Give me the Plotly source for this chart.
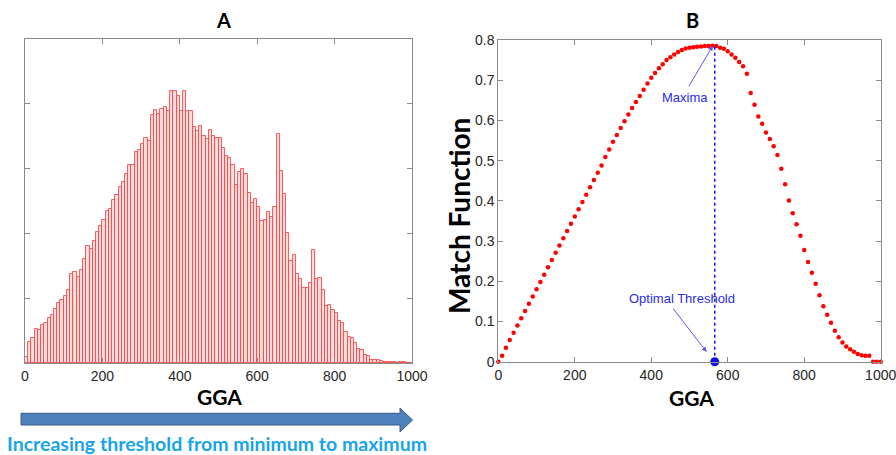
import numpy as np
import plotly.graph_objects as go

W, H = 896, 455

# ---------------- data ----------------
# Panel A: histogram of GGA (120 bins over 0..1000), heights in tick units
hist_counts = [
    0.10, 0.33, 0.38, 0.52, 0.51, 0.58, 0.62, 0.70, 0.74, 0.84,
    0.93, 0.97, 1.03, 1.12, 1.38, 1.40, 1.33, 1.44, 1.61, 1.80,
    1.76, 1.89, 2.02, 2.12, 2.21, 2.34, 2.37, 2.51, 2.60, 2.72,
    2.80, 2.91, 3.06, 3.05, 3.25, 3.28, 3.38, 3.48, 3.43, 3.82,
    3.90, 3.84, 3.92, 3.95, 3.89, 4.20, 4.20, 4.12, 3.89, 4.20,
    3.89, 3.89, 3.64, 3.58, 3.66, 3.51, 3.46, 3.60, 3.51, 3.48,
    3.48, 3.32, 3.20, 3.17, 3.05, 2.74, 2.94, 2.99, 2.92, 2.62,
    2.47, 2.53, 2.41, 2.19, 2.21, 2.33, 2.25, 2.40, 3.54, 2.97,
    2.61, 2.00, 1.58, 1.66, 1.38, 1.29, 1.15, 1.15, 1.24, 1.74,
    1.29, 1.31, 1.13, 0.88, 0.90, 0.82, 0.77, 0.65, 0.62, 0.48,
    0.40, 0.38, 0.31, 0.22, 0.20, 0.12, 0.11, 0.05, 0.04, 0.04,
    0.03, 0.02, 0.02, 0.01, 0.01, 0.005, 0.01, 0.01, 0.005, 0.0,
]
hist_range = [0, 1000]

# Panel B: match function vs threshold (GGA 0..1000 step 10)
thresholds = list(range(0, 1001, 10))
match_values = [
    0.000, 0.015, 0.035, 0.054, 0.072, 0.090, 0.108, 0.126, 0.144, 0.162,
    0.180, 0.198, 0.216, 0.235, 0.253, 0.271, 0.289, 0.307, 0.325, 0.343,
    0.361, 0.379, 0.397, 0.415, 0.434, 0.452, 0.470, 0.488, 0.509, 0.528,
    0.547, 0.564, 0.581, 0.598, 0.615, 0.631, 0.646, 0.661, 0.676, 0.692,
    0.706, 0.718, 0.730, 0.740, 0.750, 0.757, 0.764, 0.770, 0.775, 0.779,
    0.781, 0.782, 0.783, 0.784, 0.785, 0.785, 0.786, 0.785, 0.781, 0.778,
    0.772, 0.764, 0.756, 0.745, 0.735, 0.716, 0.668, 0.639, 0.610, 0.592,
    0.570, 0.554, 0.536, 0.514, 0.480, 0.441, 0.401, 0.369, 0.342, 0.313,
    0.278, 0.248, 0.221, 0.194, 0.165, 0.138, 0.117, 0.097, 0.077, 0.061,
    0.048, 0.038, 0.031, 0.025, 0.019, 0.016, 0.015, 0.015, 0.000, 0.000,
    0.000,
]
optimal_threshold = 566
maxima_value = 0.786

x_ticks = [0, 200, 400, 600, 800, 1000]
yA_ticks = [1, 2, 3, 4]
yB_ticks = [0, 0.1, 0.2, 0.3, 0.4, 0.5, 0.6, 0.7, 0.8]
yB_labels = ["0", "0.1", "0.2", "0.3", "0.4", "0.5", "0.6", "0.7", "0.8"]

# ---------------- helpers ----------------
def px(x):
    return x / W

def py(y):
    return 1 - y / H

n_bins = len(hist_counts)
bin_width = (hist_range[1] - hist_range[0]) / n_bins
bin_centers = hist_range[0] + (np.arange(n_bins) + 0.5) * bin_width

TICK_FONT = dict(family="Liberation Sans, Arial, sans-serif", size=14, color="#262626")
BOLD = "Lato, 'Open Sans', sans-serif"
AX_COL = "#8a8a8a"

fig = go.Figure()

fig.add_trace(go.Bar(
    x=bin_centers, y=hist_counts, width=bin_width,
    marker=dict(color="#fcdede", line=dict(color="#f44848", width=0.9)),
    xaxis="x", yaxis="y", hoverinfo="skip",
))

fig.add_trace(go.Scatter(
    x=thresholds, y=match_values, mode="markers",
    marker=dict(size=4.5, color="#ff0000"),
    xaxis="x2", yaxis="y2", cliponaxis=False,
))

fig.add_trace(go.Scatter(
    x=[optimal_threshold, optimal_threshold], y=[0, maxima_value], mode="lines",
    line=dict(color="#1a1aff", width=1.6, dash="dot"),
    xaxis="x2", yaxis="y2",
))

fig.add_trace(go.Scatter(
    x=[optimal_threshold], y=[0], mode="markers",
    marker=dict(size=9, color="#1010e0"),
    xaxis="x2", yaxis="y2", cliponaxis=False,
))

axis_common = dict(
    showline=True, linecolor=AX_COL, linewidth=1, mirror="ticks",
    ticks="inside", ticklen=5, tickcolor=AX_COL, tickwidth=1,
    showgrid=False, zeroline=False, tickfont=TICK_FONT, automargin=False,
    ticklabeloverflow="allow",
)

fig.update_layout(
    width=W, height=H,
    margin=dict(l=0, r=0, t=0, b=0, pad=0, autoexpand=False),
    paper_bgcolor="white", plot_bgcolor="white",
    showlegend=False, bargap=0,
    xaxis=dict(domain=[px(25), px(412)], range=hist_range, tickvals=x_ticks,
               anchor="y", **axis_common),
    yaxis=dict(domain=[py(363), py(39)], range=[0, 5], tickvals=yA_ticks,
               showticklabels=False, anchor="x", **axis_common),
    xaxis2=dict(domain=[px(498.3), px(880.7)], range=[0, 1000], tickvals=x_ticks,
                anchor="y2", **axis_common),
    yaxis2=dict(domain=[py(361.7), py(40)], range=[0, 0.8], tickvals=yB_ticks,
                ticktext=yB_labels, anchor="x2", **axis_common),
)

def note(text, x, y, size, color="black", family=BOLD, angle=0):
    return dict(text=text, x=px(x), y=py(y), xref="paper", yref="paper",
                xanchor="center", yanchor="middle", showarrow=False,
                textangle=angle, font=dict(family=family, size=size, color=color))

annotations = [
    note("<b>A</b>", 223, 20, 20),
    note("<b>B</b>", 692, 20, 20),
    note("<b>GGA</b>", 219, 396, 21),
    note("<b>GGA</b>", 691, 397, 21),
    note("<b>Match Function</b>", 459, 216, 28, angle=-90),
    note("<b>Increasing threshold from minimum to maximum</b>", 216.5, 443, 19.5,
         color="#18a4e8"),
    # Maxima label + arrow
    dict(text="Maxima", x=488, y=0.656, xref="x2", yref="y2", showarrow=False,
         xanchor="center", yanchor="middle",
         font=dict(family="Liberation Sans, Arial, sans-serif", size=13, color="#2b2be8")),
    dict(text="", x=561, y=0.786, ax=496, ay=0.681, xref="x2", yref="y2",
         axref="x2", ayref="y2", showarrow=True, arrowhead=2, arrowsize=1,
         arrowwidth=1, arrowcolor="#5a5aee"),
    # Optimal threshold label + arrow
    dict(text="Optimal Threshold", x=480, y=0.158, xref="x2", yref="y2", showarrow=False,
         xanchor="center", yanchor="middle",
         font=dict(family="Liberation Sans, Arial, sans-serif", size=13, color="#2b2be8")),
    dict(text="", x=545, y=0.024, ax=454, ay=0.136, xref="x2", yref="y2",
         axref="x2", ayref="y2", showarrow=True, arrowhead=2, arrowsize=1,
         arrowwidth=1, arrowcolor="#5a5aee"),
]
fig.update_layout(annotations=annotations)

# Block arrow under panel A
pts = [(21, 413.3), (400, 413.3), (400, 408), (412.5, 420), (400, 432),
       (400, 425), (21, 425)]
path = "M " + " L ".join(f"{px(x):.5f},{py(y):.5f}" for x, y in pts) + " Z"
fig.add_shape(type="path", path=path, xref="paper", yref="paper",
              fillcolor="#4f81bd", line=dict(color="#385d8a", width=1))

fig.write_html(
    "out.html",
    config={"displayModeBar": False},
    post_script="document.body.style.margin='0px';document.body.style.overflow='hidden';",
)
